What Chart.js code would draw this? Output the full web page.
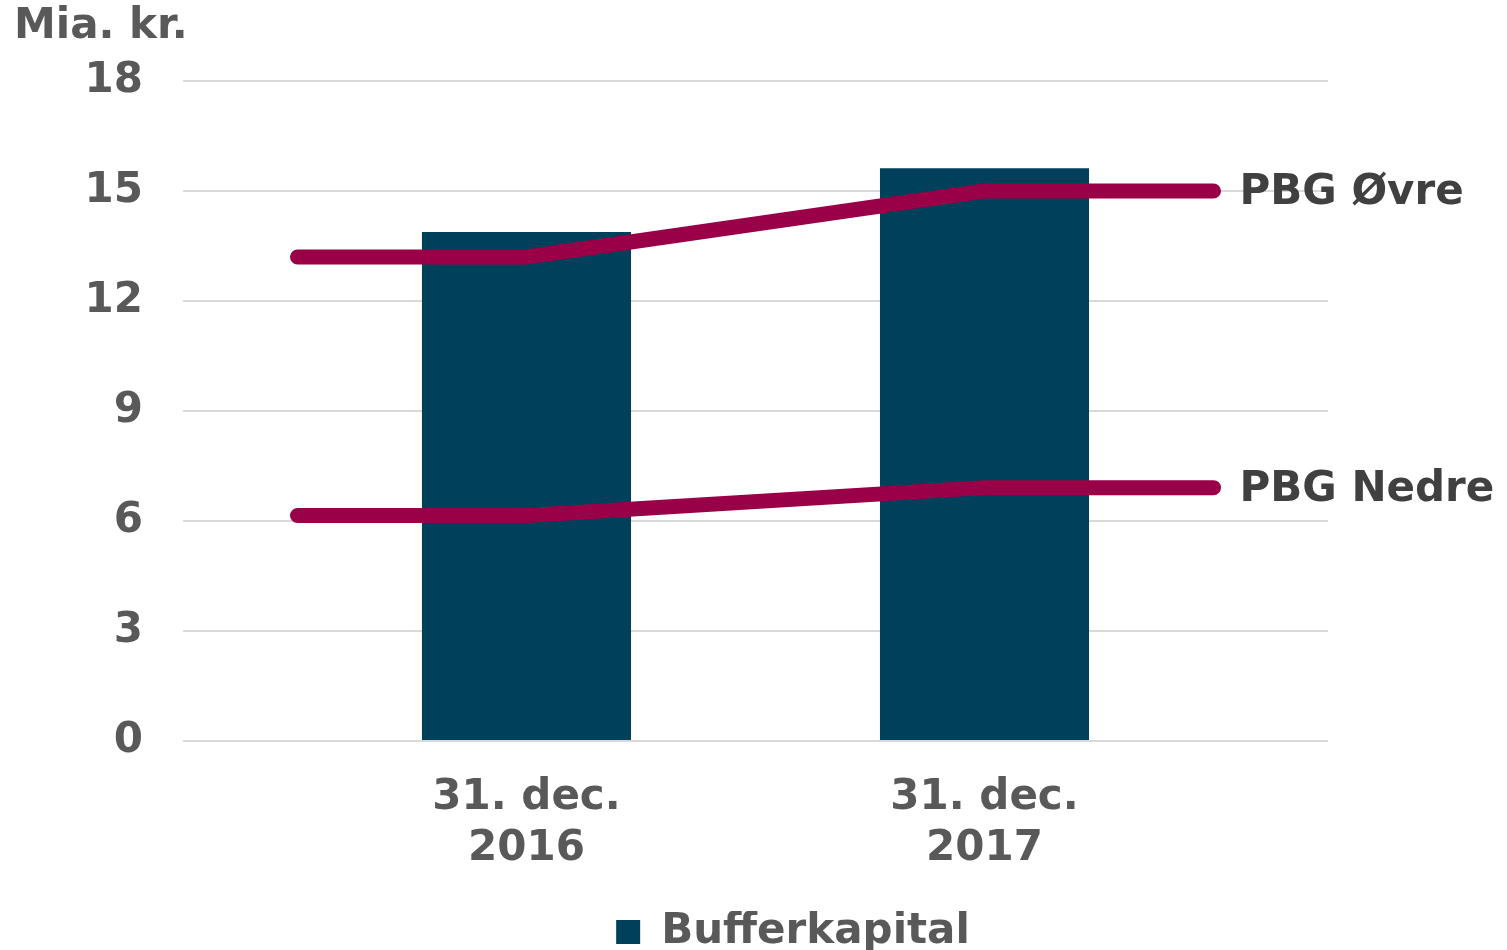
<!DOCTYPE html>
<html>
<head>
<meta charset="utf-8">
<script src="https://cdn.jsdelivr.net/npm/chart.js@4/dist/chart.umd.min.js"></script>
<style>
  html, body { margin: 0; padding: 0; background: #fff; }
  #wrap { width: 1507px; height: 950px; }
</style>
</head>
<body>
<div id="wrap"><canvas id="myChart" width="1507" height="950"></canvas></div>
<script>
// empty slots left and right hold the ends of the PBG lines
const labels = ["", ["31. dec.", "2016"], "", ["31. dec.", "2017"], ""];
const bufferkapital = [null, 13.88, null, 15.62, null];
const pbgOvre = [13.2, 13.2, null, 15.0, 15.0];
const pbgNedre = [6.15, 6.15, null, 6.91, 6.91];
const yTicks = [0, 3, 6, 9, 12, 15, 18];

const grey = "#595959";
const font = "DejaVu Sans";

const lineStyle = {
  type: "line",
  borderColor: "#990047",
  backgroundColor: "#990047",
  borderWidth: 15,
  borderCapStyle: "round",
  borderJoinStyle: "round",
  pointRadius: 0,
  spanGaps: true,
  tension: 0,
  order: 0,
};

const endLabels = {
  id: "endLabels",
  afterDatasetsDraw(chart) {
    const ctx = chart.ctx;
    ctx.save();
    ctx.font = "bold 42px '" + font + "'";
    ctx.fillStyle = "#404040";
    ctx.textBaseline = "middle";
    [1, 2].forEach((i) => {
      const ds = chart.data.datasets[i];
      const pts = chart.getDatasetMeta(i).data;
      const last = pts[pts.length - 1];
      ctx.fillText(ds.label, last.x + 26, last.y + 2);
    });
    // unit label
    ctx.fillStyle = grey;
    ctx.fillText("Mia. kr.", 14, 27);
    ctx.restore();
  },
};

const data = {
  labels: labels,
  datasets: [
    {
      type: "bar",
      label: "Bufferkapital",
      data: bufferkapital,
      backgroundColor: "#00405A",
      barPercentage: 0.913,
      categoryPercentage: 1,
      order: 1,
    },
    Object.assign({ label: "PBG Øvre", data: pbgOvre }, lineStyle),
    Object.assign({ label: "PBG Nedre", data: pbgNedre }, lineStyle),
  ],
};

const config = {
  type: "bar",
  data: data,
  options: {
    responsive: false,
    animation: false,
    layout: {
      // left padding shifts the centred legend to the right,
      // negative bottom lets the legend sit lower
      padding: { top: 81, right: 0, left: 79, bottom: -13 },
    },
    scales: {
      x: {
        offset: true,
        grid: { display: false, drawTicks: false },
        border: { display: false },
        ticks: {
          color: grey,
          padding: 32,
          maxRotation: 0,
          autoSkip: false,
          font: { family: font, size: 42, weight: "bold", lineHeight: 1.2 },
        },
        afterFit(scale) {
          scale.height = 170;
        },
      },
      y: {
        min: 0,
        max: 18,
        afterBuildTicks(scale) {
          scale.ticks = yTicks.map((v) => ({ value: v }));
        },
        grid: { color: "#d9d9d9", lineWidth: 2, drawTicks: false },
        border: { display: false },
        ticks: {
          color: grey,
          padding: 40,
          font: { family: font, size: 42, weight: "bold" },
        },
        afterFit(scale) {
          scale.width = 104;
        },
      },
      // empty right axis keeps room for the line labels
      yRight: {
        position: "right",
        grid: { display: false, drawTicks: false },
        border: { display: false },
        ticks: { display: false },
        afterFit(scale) {
          scale.width = 179;
        },
      },
    },
    plugins: {
      title: { display: false },
      tooltip: { enabled: false },
      legend: {
        position: "bottom",
        labels: {
          color: grey,
          boxWidth: 24,
          boxHeight: 24,
          padding: 0,
          font: { family: font, size: 42, weight: "bold", lineHeight: 1 },
          filter: (item) => item.datasetIndex === 0,
        },
      },
    },
  },
  plugins: [endLabels],
};

const myChart = new Chart(document.getElementById("myChart"), config);
</script>
</body>
</html>
